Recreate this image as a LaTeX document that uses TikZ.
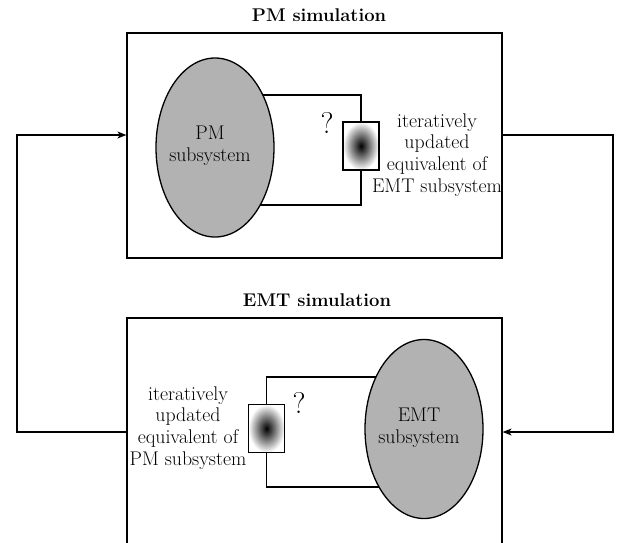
\documentclass[tikz,border=0pt]{standalone}
\usetikzlibrary{arrows.meta,backgrounds,calc,shapes.geometric}
\begin{document}
\begin{tikzpicture}[x=1pt,y=-1pt,
  lbl/.style={font=\fontsize{19.8}{21.8}\selectfont, align=center, inner sep=0pt},
  ttl/.style={font=\fontsize{18.4}{22}\selectfont\bfseries, inner sep=0pt},
  qm/.style={font=\fontsize{30}{34}\selectfont, inner sep=0pt},
  simbox/.style={draw, line width=1.2pt, minimum width=375pt, inner sep=0pt},
  subsys/.style={ellipse, draw, line width=1.3pt, fill=black!30, minimum width=118pt, minimum height=179pt, inner sep=0pt},
  equiv/.style={draw, line width=1.3pt, minimum width=36pt, minimum height=48pt, inner sep=0pt, inner color=black, outer color=white},
  wire/.style={line width=1.2pt},
  link/.style={line width=1.2pt, -{Stealth[length=9pt,width=7pt,inset=2.5pt]}}
]
\useasboundingbox (0,0) rectangle (620,542);
\clip (0,0) rectangle (620,542);
% boxes
\node[simbox, minimum height=225pt] (pmbox) at (314.5,145.5) {};
\node[simbox, minimum height=260pt] (emtbox) at (314.5,448) {};
\node[ttl] (pmttl) at (319,15) {PM simulation};
\node[ttl] (emtttl) at (317,300) {EMT simulation};
% PM side
\node[subsys] (pm) at (215,147.5) {};
\node[lbl] (pmlbl) at (210,146) {PM\\subsystem};
\node[equiv] (res1) at (361,146) {};
\node[qm] (q1) at (327,123) {?};
\node[lbl] (t1) at (437,155) {iteratively\\updated\\equivalent of\\EMT subsystem};
\begin{scope}[on background layer]
\draw[wire] (res1.north) |- ($(pm.center)+(0,-52.5)$);
\draw[wire] (res1.south) |- ($(pm.center)+(0,57.5)$);
\end{scope}
% EMT side
\node[subsys] (emt) at (424,429) {};
\node[lbl] (emtlbl) at (419,428) {EMT\\subsystem};
\node[equiv] (res2) at (266.5,428.5) {};
\node[qm] (q2) at (299,403) {?};
\node[lbl] (t2) at (188,428) {iteratively\\updated\\equivalent of\\PM subsystem};
\begin{scope}[on background layer]
\draw[wire] (res2.north) |- ($(emt.center)+(0,-52)$);
\draw[wire] (res2.south) |- ($(emt.center)+(0,58)$);
\end{scope}
% exchange loops
\draw[link] (pmbox.east |- 0,135) -- (613,135) |- (emtbox.east |- 0,432);
\draw[link] (emtbox.west |- 0,432) -- (17,432) |- (pmbox.west |- 0,135);
\end{tikzpicture}
\end{document}
